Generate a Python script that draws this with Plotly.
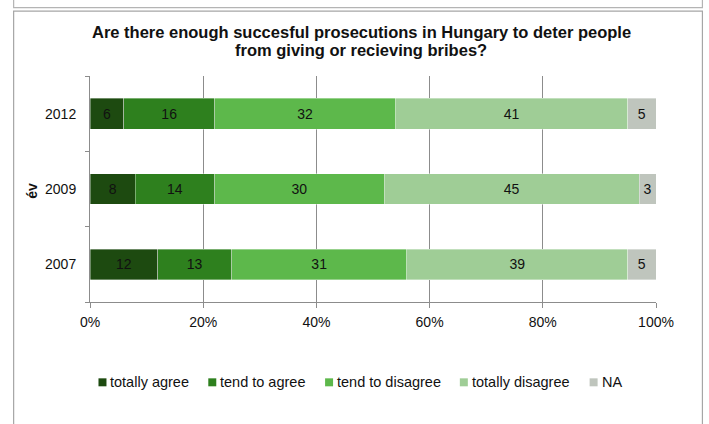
import plotly.graph_objects as go

# Survey answers per year (percent of respondents)
years = ["2007", "2009", "2012"]
series_names = ["totally agree", "tend to agree", "tend to disagree", "totally disagree", "NA"]
totally_agree = [12, 8, 6]
tend_to_agree = [13, 14, 16]
tend_to_disagree = [31, 30, 32]
totally_disagree = [39, 45, 41]
no_answer = [5, 3, 5]
colors = ["#1d4a10", "#2e801e", "#5db84b", "#9fcd96", "#bfc5bd"]

title_lines = ["Are there enough succesful prosecutions in Hungary to deter people",
               "from giving or recieving bribes?"]

series_values = [totally_agree, tend_to_agree, tend_to_disagree, totally_disagree, no_answer]

W, H = 709, 424
L, R, T, B = 89.5, 656.5, 75.5, 302.0  # plot area in pixels
FONT = "Liberation Sans, Arial"


def px_x(px):
    return (px - L) / (R - L)


def px_y(py):
    return (B - py) / (B - T)


fig = go.Figure()
for name, vals, col in zip(series_names, series_values, colors):
    fig.add_trace(go.Bar(
        y=years, x=vals, name=name, orientation="h",
        marker=dict(color=col, line=dict(color="rgba(255,255,255,0.6)", width=0.6)),
        text=[str(v) for v in vals], textposition="inside",
        insidetextanchor="middle",
        textfont=dict(family=FONT, size=14, color="#111111"),
        showlegend=False, cliponaxis=False,
    ))

grey = "#8c8c8c"
fig.update_layout(
    width=W, height=H,
    margin=dict(l=L, r=W - R, t=T, b=H - B, pad=0),
    barmode="stack", bargap=0.593,
    plot_bgcolor="white", paper_bgcolor="white",
    font=dict(family=FONT, size=14, color="#111111"),
    xaxis=dict(
        range=[0, 100], dtick=20, ticksuffix="%",
        showgrid=True, gridcolor=grey, gridwidth=1,
        showline=True, linecolor=grey, linewidth=1,
        ticks="outside", ticklen=5, tickcolor=grey,
        ticklabelstandoff=2,
        zeroline=False, fixedrange=True,
    ),
    yaxis=dict(
        type="category", categoryorder="array", categoryarray=years,
        tickson="boundaries", ticks="outside", ticklen=4, tickcolor=grey,
        showline=True, linecolor=grey, linewidth=1, showgrid=False,
        ticklabelstandoff=10, fixedrange=True,
    ),
)

shapes = []
# outer frame of this chart and the bottom of the frame above it
shapes.append(dict(type="rect", xref="paper", yref="paper",
                   x0=px_x(13), x1=px_x(703), y0=px_y(440), y1=px_y(10.5),
                   line=dict(color="#a6a6a6", width=1.2), layer="below"))
shapes.append(dict(type="rect", xref="paper", yref="paper",
                   x0=px_x(13), x1=px_x(703), y0=px_y(7), y1=px_y(-20),
                   line=dict(color="#b4b4b4", width=1.2), layer="below"))

annotations = []
# two-line bold title
for line, cy in zip(title_lines, [31, 49]):
    annotations.append(dict(
        text="<b>" + line + "</b>", xref="paper", yref="paper",
        x=px_x(361), y=px_y(cy), xanchor="center", yanchor="middle",
        showarrow=False, font=dict(family=FONT, size=16.5, color="#111111"),
    ))

annotations.append(dict(
    text="<b>év</b>", textangle=-90, xref="paper", yref="paper",
    x=px_x(32), y=px_y(191), xanchor="center", yanchor="middle", showarrow=False,
    font=dict(family=FONT, size=14, color="#111111"),
))

# legend drawn as small squares with labels
legend_x = [98, 208, 325, 460, 590]
legend_y = 382.5
for name, col, lx in zip(series_names, colors, legend_x):
    shapes.append(dict(type="rect", xref="paper", yref="paper",
                       x0=px_x(lx), x1=px_x(lx + 8),
                       y0=px_y(legend_y + 4), y1=px_y(legend_y - 4),
                       fillcolor=col, line=dict(width=0)))
    annotations.append(dict(
        text=name, xref="paper", yref="paper", x=px_x(lx + 10), y=px_y(legend_y),
        xanchor="left", yanchor="middle", showarrow=False,
        font=dict(family=FONT, size=14.5, color="#111111"),
    ))

fig.update_layout(shapes=shapes, annotations=annotations)
fig.write_html("out.html")
